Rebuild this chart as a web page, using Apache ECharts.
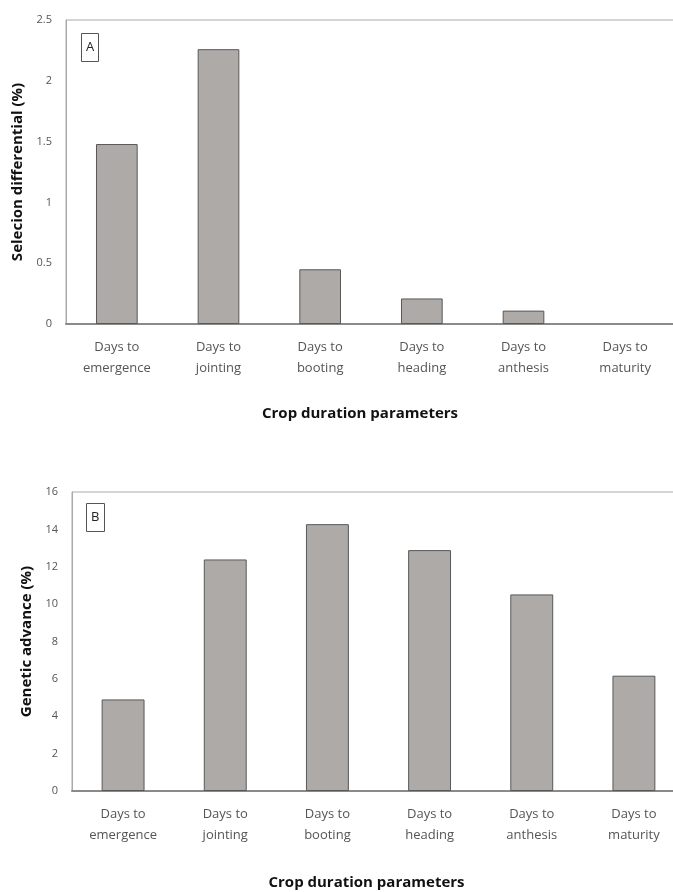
<!DOCTYPE html>
<html>
<head>
<meta charset="utf-8">
<script src="https://cdn.jsdelivr.net/npm/echarts@6/dist/echarts.min.js"></script>
<style>html,body{margin:0;padding:0;background:#fff;overflow:hidden}#c{width:700px;height:892px}</style>
</head>
<body>
<div id="c"></div>
<script>
const categories = ["Days to\nemergence","Days to\njointing","Days to\nbooting","Days to\nheading","Days to\nanthesis","Days to\nmaturity"];
const selectionDifferential = [1.48, 2.26, 0.45, 0.21, 0.11, 0];
const geneticAdvance = [4.9, 12.39, 14.28, 12.89, 10.52, 6.17];
const yTicksA = [0, 0.5, 1, 1.5, 2, 2.5];
const yTicksB = [0, 2, 4, 6, 8, 10, 12, 14, 16];

const FONT = "Open Sans";
const chart = echarts.init(document.getElementById('c'), null, {renderer:'canvas'});
const barStyle = {color:'#aeaaa8', borderColor:'#585858', borderWidth:1};
function barData(arr){ return arr.map(v => v === 0 ? {value:v, itemStyle:{borderWidth:0}} : v); }
function xAxis(gi, gap, padRight){
  return {
    type:'category', gridIndex:gi, data:categories,
    axisLine:{lineStyle:{color:'#8a8a8a', width:2}},
    axisTick:{show:false},
    axisLabel:{fontFamily:FONT, fontSize:13, color:'#555', lineHeight:21, margin:13, interval:0},
    name:'Crop duration parameters', nameLocation:'middle', nameGap:gap,
    nameTextStyle:{fontFamily:FONT, fontSize:15, fontWeight:'bold', color:'#111', padding:[0, padRight, 0, 0]}
  };
}
function yAxis(gi, ticks, name, gap){
  return {
    type:'value', gridIndex:gi, min:ticks[0], max:ticks[ticks.length-1], interval:ticks[1]-ticks[0],
    axisLine:{show:true, lineStyle:{color:'#aaa'}},
    axisTick:{show:false},
    splitLine:{show:false},
    axisLabel:{fontFamily:FONT, fontSize:11, color:'#555', margin:14},
    name:name, nameLocation:'middle', nameGap:gap, nameRotate:90,
    nameTextStyle:{fontFamily:FONT, fontSize:15, fontWeight:'bold', color:'#111'}
  };
}
chart.setOption({
  animation:false,
  title:[
    {text:'A', left:81, top:33, borderColor:'#555', borderWidth:1, padding:[8,5],
     textStyle:{fontFamily:FONT, fontSize:13, fontWeight:'normal', color:'#222'}},
    {text:'B', left:86, top:503, borderColor:'#555', borderWidth:1, padding:[8,5],
     textStyle:{fontFamily:FONT, fontSize:13, fontWeight:'normal', color:'#222'}}
  ],
  grid:[
    {left:66, top:20, width:610, height:304, show:true, borderColor:'#aaa', borderWidth:1, containLabel:false},
    {left:72, top:492, width:613, height:299, show:true, borderColor:'#aaa', borderWidth:1, containLabel:false}
  ],
  xAxis:[xAxis(0, 82, 22), xAxis(1, 84, 24)],
  yAxis:[yAxis(0, yTicksA, 'Selecion differential (%)', 28), yAxis(1, yTicksB, 'Genetic advance (%)', 28)],
  series:[
    {type:'bar', xAxisIndex:0, yAxisIndex:0, data:barData(selectionDifferential), barWidth:'41%', itemStyle:barStyle},
    {type:'bar', xAxisIndex:1, yAxisIndex:1, data:barData(geneticAdvance), barWidth:'42%', itemStyle:barStyle}
  ]
});
</script>
</body>
</html>
